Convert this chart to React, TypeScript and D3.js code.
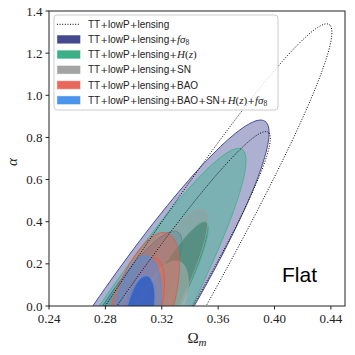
import React from 'react';
import * as d3 from 'd3';

const xDomain = [0.24, 0.45];
const yDomain = [0, 1.4];
const xTicks = [0.24, 0.28, 0.32, 0.36, 0.40, 0.44];
const xTickLabels = ['0.24', '0.28', '0.32', '0.36', '0.40', '0.44'];
const yTicks = [0, 0.2, 0.4, 0.6, 0.8, 1.0, 1.2, 1.4];
const yTickLabels = ['0.0', '0.2', '0.4', '0.6', '0.8', '1.0', '1.2', '1.4'];

// Each contour: [centre Ωm, centre α, major-axis tip Ωm, tip α, horizontal half-width Ωm]
const lensing95 = [0.2353, -0.888, 0.4387, 1.336, 0.0390];
const lensing68 = [0.2609, -0.570, 0.3954, 0.825, 0.0295];
const fs8_95 = [0.2773, -0.316, 0.3932, 0.877, 0.0373];
const fs8_68 = [0.2890, -0.114, 0.3315, 0.351, 0.0213];
const hz95 = [0.2381, -0.800, 0.3769, 0.744, 0.0385];
const hz68 = [0.3067, -0.141, 0.3514, 0.398, 0.0155];
const sn95 = [0.3030, -0.102, 0.3500, 0.455, 0.0214];
const sn68 = [0.3117, -0.114, 0.3329, 0.209, 0.0200];
const bao95 = [0.3050, -0.030, 0.3237, 0.346, 0.0222];
const bao68 = [0.3067, -0.028, 0.3159, 0.227, 0.0128];
const all95 = [0.3024, -0.043, 0.3095, 0.237, 0.0163];
const all68 = [0.3046, -0.028, 0.3095, 0.142, 0.0096];

const legendBase = ['TT+lowP+lensing', 'TT+lowP+lensing+', 'TT+lowP+lensing+', 'TT+lowP+lensing+SN', 'TT+lowP+lensing+BAO', 'TT+lowP+lensing+BAO+SN+'];

const W = 355, H = 355;
const L = 49, R = 345, T = 11, B = 306;

const x = d3.scaleLinear().domain(xDomain).range([L, R]);
const y = d3.scaleLinear().domain(yDomain).range([B, T]);

function ellipsePath(p: number[]) {
  const [cx, cy, tx, ty, hw] = p;
  const C = [x(cx), y(cy)];
  const Tp = [x(tx), y(ty)];
  const dx = Tp[0] - C[0], dy = Tp[1] - C[1];
  const A = Math.hypot(dx, dy);
  const ux = dx / A, uy = dy / A;
  const vx = -uy, vy = ux;
  const h = x(cx + hw) - x(cx);
  const Bm = Math.abs(h * vx) / Math.sqrt(Math.max(1e-6, 1 - (h * ux / A) ** 2));
  const pts: [number, number][] = d3.range(0, 360, 2).map((deg) => {
    const t = (deg * Math.PI) / 180;
    return [
      C[0] + A * Math.cos(t) * ux + Bm * Math.sin(t) * vx,
      C[1] + A * Math.cos(t) * uy + Bm * Math.sin(t) * vy,
    ];
  });
  return d3.line().curve(d3.curveCardinalClosed)(pts) as string;
}

const series = [
  { c95: fs8_95, c68: fs8_68, col95: '#4a4f9a', col68: '#353a88', op95: 0.45, op68: 0.35, edge: '#3a3f8c' },
  { c95: hz95, c68: hz68, col95: '#3fb48c', col68: '#0c7a5a', op95: 0.45, op68: 0.72, edge: '#3fb48c' },
  { c95: sn95, c68: sn68, col95: '#9a9a9a', col68: '#b4b4b4', op95: 0.4, op68: 0.5, edge: '#a0a0a0' },
  { c95: bao95, c68: bao68, col95: '#e8604f', col68: '#e8604f', op95: 0.45, op68: 0.3, edge: '#e05a4a' },
  { c95: all95, c68: all68, col95: '#4a90e8', col68: '#1e55c8', op95: 0.5, op68: 0.7, edge: '#4a90e8' },
];

const handleColors = ['#454a90', '#3db088', '#a3a3a3', '#e8685b', '#4a94ec'];

const serif = '"Liberation Serif", "DejaVu Serif", serif';
const sans = '"Liberation Sans", Arial, sans-serif';
const plusFont = '"DejaVu Sans", sans-serif';

function SansWithPlus({ s }: { s: string }) {
  const parts = s.split('+');
  const out: React.ReactNode[] = [];
  parts.forEach((p, i) => {
    if (i > 0) out.push(<tspan key={'p' + i} fontFamily={plusFont} fontSize={9.3}>+</tspan>);
    if (p) out.push(<tspan key={'t' + i} fontFamily={sans} fontSize={10}>{p}</tspan>);
  });
  return <>{out}</>;
}

export default function App() {
  const rowY = [24.3, 39.4, 54.5, 69.8, 85, 100.2];
  return (
    <svg width={W} height={H} style={{ position: 'absolute', left: 0, top: 0 }} xmlns="http://www.w3.org/2000/svg">
      <rect x={0} y={0} width={W} height={H} fill="#fff" />
      <defs>
        <clipPath id="plot">
          <rect x={L} y={T} width={R - L} height={B - T} />
        </clipPath>
      </defs>
      <g clipPath="url(#plot)">
        {series.map((s, i) => (
          <g key={i}>
            <path d={ellipsePath(s.c95)} fill={s.col95} fillOpacity={s.op95} stroke={s.edge} strokeWidth={1} strokeOpacity={0.9} />
            <path d={ellipsePath(s.c68)} fill={s.col68} fillOpacity={s.op68} stroke={s.edge} strokeWidth={1} strokeOpacity={0.9} />
          </g>
        ))}
        <path d={ellipsePath(lensing95)} fill="none" stroke="#000" strokeWidth={1} strokeDasharray="1,1.6" />
        <path d={ellipsePath(lensing68)} fill="none" stroke="#000" strokeWidth={1} strokeDasharray="1,1.6" />
      </g>
      <rect x={L} y={T} width={R - L} height={B - T} fill="none" stroke="#222" strokeWidth={1} />
      {xTicks.map((t, i) => (
        <g key={'x' + i}>
          <line x1={x(t)} x2={x(t)} y1={B} y2={B + 3.5} stroke="#222" strokeWidth={1} />
          <text x={x(t)} y={323} fontFamily={serif} fontSize={13} textAnchor="middle" fill="#222">{xTickLabels[i]}</text>
        </g>
      ))}
      {yTicks.map((t, i) => (
        <g key={'y' + i}>
          <line x1={L - 3.5} x2={L} y1={y(t)} y2={y(t)} stroke="#222" strokeWidth={1} />
          <text x={42.5} y={y(t) + 4.6} fontFamily={serif} fontSize={13} textAnchor="end" fill="#222">{yTickLabels[i]}</text>
        </g>
      ))}
      <text x={197} y={343} fontFamily={serif} fontSize={15} textAnchor="middle" fill="#222">
        Ω<tspan fontStyle="italic" fontSize={11} dy={3}>m</tspan>
      </text>
      <text transform="translate(17,162) rotate(-90)" fontFamily={serif} fontSize={15} fontStyle="italic" textAnchor="middle" fill="#222">α</text>
      <text x={282} y={282} fontFamily={sans} fontSize={21} fill="#000">Flat</text>
      <rect x={54} y={15} width={224} height={95} rx={3} fill="#fff" fillOpacity={0.8} stroke="#ccc" strokeWidth={1} />
      <line x1={57} x2={80} y1={rowY[0]} y2={rowY[0]} stroke="#000" strokeWidth={1} strokeDasharray="1,1.6" />
      {handleColors.map((c, i) => (
        <rect key={'h' + i} x={57.5} y={rowY[i + 1] - 3.8} width={22.5} height={7.6} fill={c} stroke={c} strokeOpacity={0.6} strokeWidth={1} />
      ))}
      {legendBase.map((lab, i) => (
        <text key={'l' + i} x={88} y={rowY[i] + 3.6} fill="#222">
          <SansWithPlus s={lab} />
          {i === 1 && (
            <tspan fontFamily={serif} fontSize={11} fontStyle="italic">fσ<tspan fontSize={7.5} dy={2} fontStyle="normal">8</tspan></tspan>
          )}
          {i === 2 && (
            <tspan fontFamily={serif} fontSize={11}><tspan fontStyle="italic">H</tspan>(<tspan fontStyle="italic">z</tspan>)</tspan>
          )}
          {i === 5 && (
            <tspan fontFamily={serif} fontSize={11}>
              <tspan fontStyle="italic">H</tspan>(<tspan fontStyle="italic">z</tspan>)
              <tspan fontFamily={plusFont} fontSize={9.3}>+</tspan>
              <tspan fontStyle="italic">fσ</tspan>
              <tspan fontSize={7.5} dy={2}>8</tspan>
            </tspan>
          )}
        </text>
      ))}
    </svg>
  );
}
